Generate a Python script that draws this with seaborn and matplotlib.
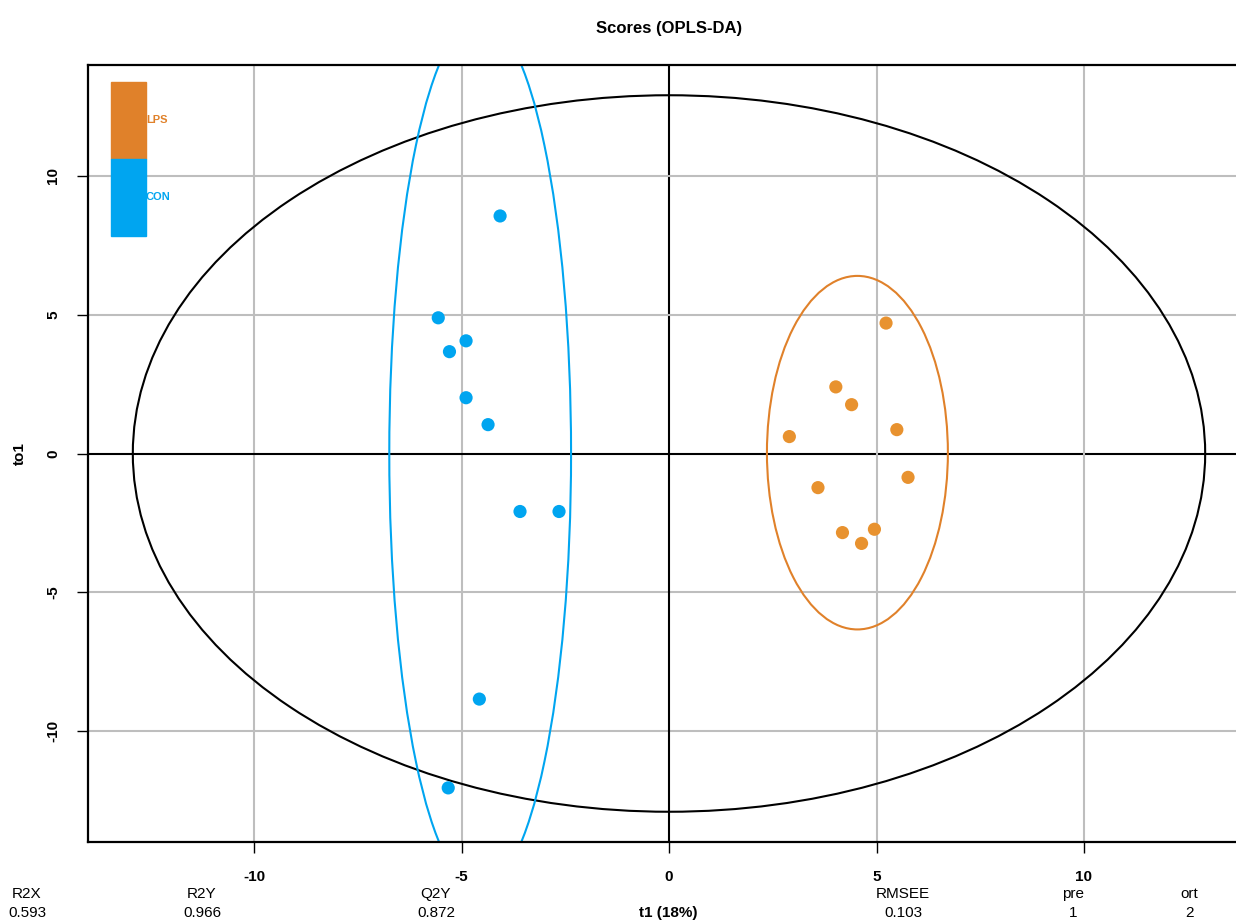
import numpy as np
import pandas as pd
import seaborn as sns
import matplotlib
matplotlib.use("Agg")
import matplotlib.pyplot as plt
from matplotlib.patches import Ellipse, Rectangle

# scores
con_t1 = [-4.07, -5.56, -4.89, -5.29, -4.89, -4.36, -3.59, -2.65, -4.57, -5.32]
con_to1 = [8.56, 4.89, 4.06, 3.67, 2.01, 1.04, -2.09, -2.09, -8.85, -12.05]
lps_t1 = [5.23, 4.02, 4.40, 5.49, 2.90, 5.76, 3.59, 4.95, 4.18, 4.64]
lps_to1 = [4.70, 2.40, 1.76, 0.86, 0.61, -0.86, -1.23, -2.73, -2.85, -3.24]

# ellipses: centre x, centre y, half width, half height
hotelling = (0.0, 0.0, 12.92, 12.91)
con_ell = (-4.55, 0.0, 2.19, 15.7)
lps_ell = (4.54, 0.03, 2.18, 6.37)

stat_names = ["R2X", "R2Y", "Q2Y", "RMSEE", "pre", "ort"]
stat_values = ["0.593", "0.966", "0.872", "0.103", "1", "2"]
stat_xpix = [27, 202, 436, 903, 1073, 1189]

ticks = [-10, -5, 0, 5, 10]

orange = "#E0812A"
orange_pt = "#E8922F"
blue = "#00A5F0"

df = pd.DataFrame({
    "t1": con_t1 + lps_t1,
    "to1": con_to1 + lps_to1,
    "group": ["CON"] * len(con_t1) + ["LPS"] * len(lps_t1),
})

sns.set_style("white")
plt.rcParams["font.family"] = ["Liberation Sans", "DejaVu Sans"]
plt.rcParams["text.color"] = "black"
plt.rcParams["axes.labelcolor"] = "black"
plt.rcParams["xtick.color"] = "black"
plt.rcParams["ytick.color"] = "black"

W, H = 1236, 923
fig = plt.figure(figsize=(W / 100, H / 100), dpi=100)
ax = fig.add_axes([88 / W, 1 - 842 / H, (1250 - 88) / W, (842 - 65) / H])

ax.set_xlim(-14, 14)
ax.set_ylim(-14, 14)

# grid
for t in ticks:
    c = "black" if t == 0 else "#BEBEBE"
    ax.axvline(t, color=c, lw=1.5, zorder=1)
    ax.axhline(t, color=c, lw=1.5, zorder=1)

for (cx, cy, rx, ry), col in [(hotelling, "black"), (con_ell, blue), (lps_ell, orange)]:
    ax.add_patch(Ellipse((cx, cy), 2 * rx, 2 * ry, fill=False, edgecolor=col, lw=1.5, zorder=2))

sns.scatterplot(data=df, x="t1", y="to1", hue="group",
                palette={"CON": blue, "LPS": orange_pt},
                s=90, edgecolor="none", legend=False, ax=ax, zorder=3)

# colour-bar style legend
x0, x1 = (111 - 88) / 1162, (146 - 88) / 1162
ax.add_patch(Rectangle((x0, 0.879), x1 - x0, 0.099, transform=ax.transAxes,
                       color=orange, zorder=4, clip_on=False))
ax.add_patch(Rectangle((x0, 0.780), x1 - x0, 0.099, transform=ax.transAxes,
                       color=blue, zorder=4, clip_on=False))
ax.text(x1, 0.929, "LPS", color=orange, fontsize=8, fontweight="bold",
        va="center", ha="left", transform=ax.transAxes)
ax.text(x1, 0.830, "CON", color=blue, fontsize=8, fontweight="bold",
        va="center", ha="left", transform=ax.transAxes)

ax.set_xticks(ticks)
ax.set_yticks(ticks)
ax.set_xticklabels([str(t) for t in ticks], fontweight="bold", fontsize=11)
ax.set_yticklabels([str(t) for t in ticks], fontweight="bold", fontsize=11,
                   rotation=90, va="center")
ax.tick_params(axis="both", direction="out", length=8, width=1, color="black",
               bottom=True, left=True, pad=12)
ax.set_xlabel("")
ax.set_ylabel("to1", fontweight="bold", fontsize=11, labelpad=14)

for sp in ax.spines.values():
    sp.set_color("black")
    sp.set_linewidth(1.6)

fig.text(668 / W, 1 - 913 / H, "t1 (18%)", fontweight="bold", fontsize=11,
         ha="center", va="center")
fig.text(0.5 * (88 + 1250) / W, 1 - 28 / H, "Scores (OPLS-DA)",
         fontweight="bold", fontsize=12, ha="center", va="center")

for name, val, xp in zip(stat_names, stat_values, stat_xpix):
    fig.text(xp / W, 1 - 894 / H, name, fontsize=11, ha="center", va="center")
    fig.text(xp / W, 1 - 913 / H, val, fontsize=11, ha="center", va="center")

fig.savefig("out.png", dpi=100)
